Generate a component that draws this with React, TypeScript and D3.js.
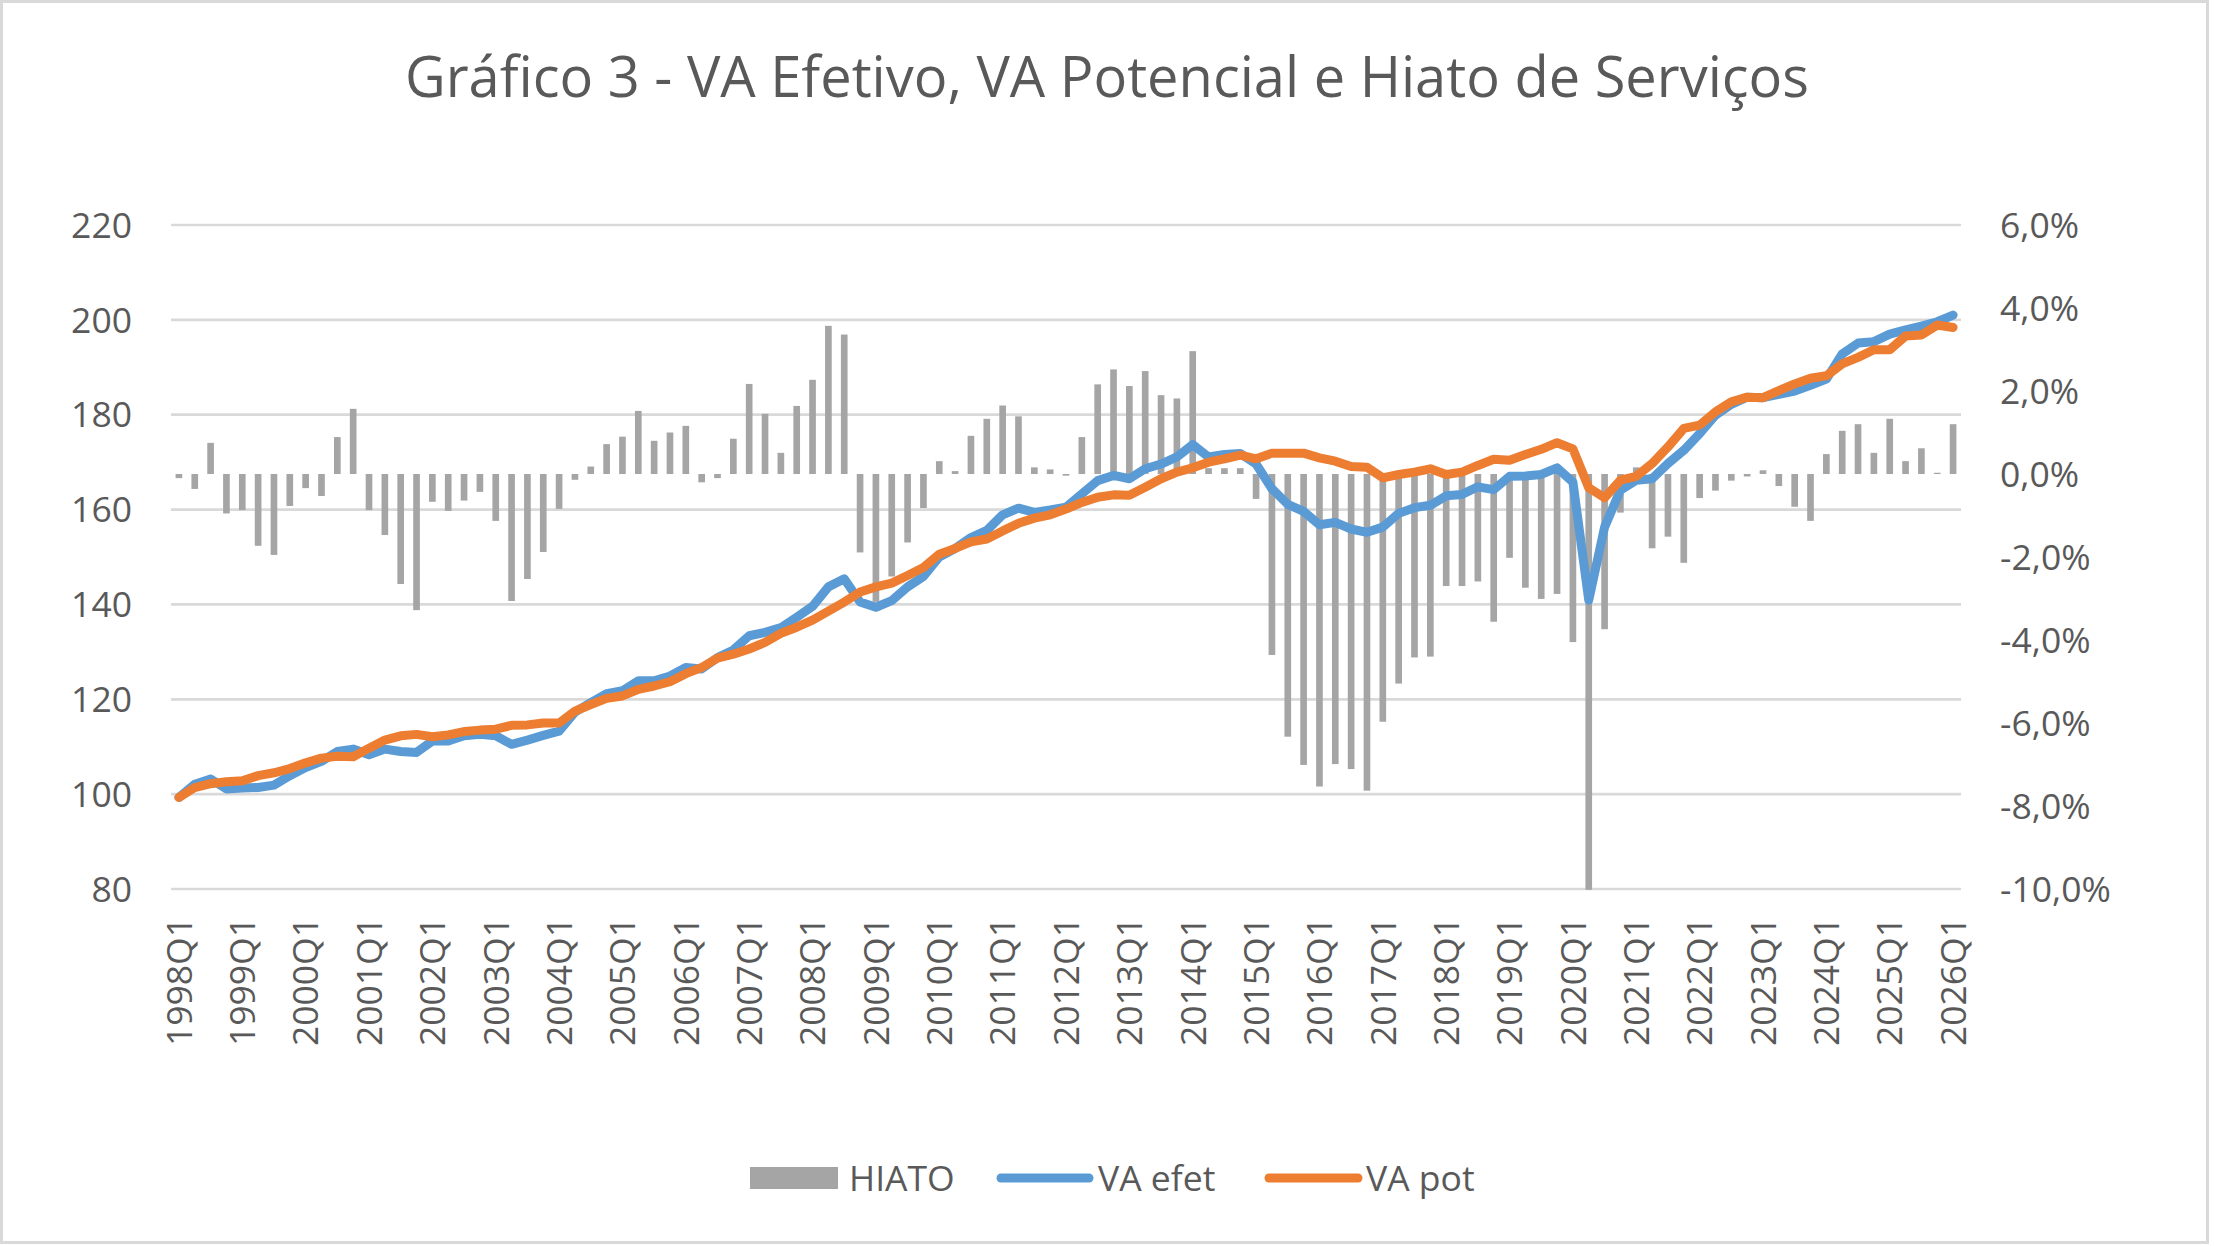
import * as d3 from "d3";

// Quarterly categories 1998Q1 .. 2026Q1
const quarters: string[] = [];
for (let y = 1998; y <= 2026; y++) {
  for (let q = 1; q <= 4; q++) {
    if (y === 2026 && q > 1) break;
    quarters.push(`${y}Q${q}`);
  }
}

// HIATO, in %
const hiato = [
  -0.10, -0.36, 0.75, -0.95,
  -0.87, -1.73, -1.95, -0.77,
  -0.34, -0.53, 0.89, 1.57,
  -0.87, -1.47, -2.65, -3.28,
  -0.67, -0.89, -0.64, -0.43,
  -1.13, -3.06, -2.53, -1.88,
  -0.84, -0.14, 0.18, 0.72,
  0.90, 1.52, 0.80, 1.00,
  1.16, -0.20, -0.10, 0.85,
  2.17, 1.45, 0.51, 1.64,
  2.27, 3.57, 3.36, -1.89,
  -3.08, -2.47, -1.65, -0.82,
  0.31, 0.07, 0.92, 1.33,
  1.65, 1.39, 0.16, 0.11,
  -0.04, 0.89, 2.16, 2.52,
  2.12, 2.48, 1.90, 1.82,
  2.96, 0.14, 0.14, 0.14,
  -0.60, -4.36, -6.33, -7.01,
  -7.53, -6.99, -7.11, -7.63,
  -5.97, -5.05, -4.42, -4.40,
  -2.70, -2.70, -2.59, -3.56,
  -2.02, -2.74, -3.01, -2.89,
  -4.05, -10.02, -3.74, -0.93,
  0.16, -1.79, -1.51, -2.14,
  -0.58, -0.40, -0.16, -0.06,
  0.09, -0.29, -0.79, -1.13,
  0.48, 1.04, 1.20, 0.51,
  1.33, 0.31, 0.62, 0.03,
  1.20,
];

const vaEfet = [
  99.3, 102.1, 103.2, 101.1,
  101.3, 101.4, 101.9, 103.9,
  105.6, 106.9, 109.0, 109.5,
  108.3, 109.5, 109.0, 108.8,
  111.2, 111.2, 112.3, 112.6,
  112.3, 110.5, 111.4, 112.4,
  113.3, 117.3, 119.3, 121.2,
  121.8, 123.9, 123.9, 124.9,
  126.7, 126.4, 128.8, 130.4,
  133.4, 134.1, 135.1, 137.3,
  139.6, 143.7, 145.4, 140.5,
  139.4, 140.8, 143.7, 145.9,
  150.0, 151.8, 154.1, 155.6,
  158.9, 160.3, 159.4, 159.9,
  160.5, 163.3, 166.1, 167.2,
  166.5, 168.6, 169.6, 171.1,
  173.7, 171.1, 171.6, 171.8,
  169.6, 164.4, 161.1, 159.6,
  156.8, 157.3, 155.9, 155.2,
  156.3, 159.2, 160.4, 160.9,
  162.9, 163.2, 164.8, 164.2,
  167.0, 167.1, 167.4, 168.8,
  165.8, 140.9, 156.3, 164.1,
  166.2, 166.5, 169.7, 172.5,
  176.0, 179.9, 182.2, 183.7,
  183.6, 184.3, 185.0, 186.2,
  187.5, 192.8, 195.1, 195.4,
  197.0, 197.9, 198.7, 199.6,
  201.0,
];

const vaPot = [
  99.3, 101.4, 102.2, 102.6,
  102.8, 103.9, 104.5, 105.4,
  106.6, 107.6, 108.0, 107.9,
  109.7, 111.4, 112.3, 112.6,
  112.1, 112.5, 113.2, 113.5,
  113.7, 114.5, 114.6, 115.0,
  115.0, 117.5, 118.9, 120.2,
  120.7, 122.1, 122.8, 123.7,
  125.4, 126.7, 128.7, 129.5,
  130.6, 132.0, 133.9, 135.2,
  136.7, 138.6, 140.5, 142.6,
  143.7, 144.5, 146.1, 147.8,
  150.6, 151.8, 153.2, 153.8,
  155.5, 157.1, 158.2, 158.9,
  160.1, 161.5, 162.6, 163.1,
  163.0, 164.7, 166.5, 167.9,
  168.8, 170.0, 170.7, 171.5,
  170.7, 171.9, 171.9, 171.9,
  170.9, 170.2, 169.1, 168.9,
  166.7, 167.4, 167.9, 168.6,
  167.4, 167.9, 169.3, 170.6,
  170.4, 171.6, 172.7, 174.1,
  172.8, 164.6, 162.5, 166.2,
  167.0, 169.7, 173.2, 177.1,
  177.8, 180.6, 182.7, 183.7,
  183.6, 185.1, 186.5, 187.7,
  188.2, 190.7, 192.1, 193.7,
  193.7, 196.6, 196.8, 198.9,
  198.4,
];

const leftTicks = [80, 100, 120, 140, 160, 180, 200, 220];
const rightTicks = [-10, -8, -6, -4, -2, 0, 2, 4, 6];

const title = "Gráfico 3 - VA Efetivo, VA Potencial e Hiato de Serviços";

export default function App() {
  const width = 2214;
  const height = 1246;
  const marginLeft = 171;
  const marginRight = 253;
  const marginTop = 225;
  const marginBottom = 357;
  const font = "'Open Sans', sans-serif";
  const textColor = "#595959";

  const x = d3.scaleBand()
    .domain(quarters)
    .range([marginLeft, width - marginRight])
    .paddingInner(0.58)
    .paddingOuter(0.29);
  const cx = (q: string) => (x(q) as number) + x.bandwidth() / 2;

  const yL = d3.scaleLinear().domain([80, 220]).range([height - marginBottom, marginTop]);
  const yR = d3.scaleLinear().domain([-10, 6]).range([height - marginBottom, marginTop]);

  const line = d3.line<number>()
    .x((_, i) => cx(quarters[i]))
    .y(d => yL(d));

  // excel style: 6,0%  -10,0%
  const fmtPct = (v: number) => v.toFixed(1).replace(".", ",") + "%";

  return (
    <svg width={width} height={height} style={{ position: "absolute", left: 0, top: 0 }}>
      <rect x={1.5} y={1.5} width={2206} height={1241} fill="#fff" stroke="#d9d9d9" strokeWidth={3} />

      <text x={width / 2} y={97} textAnchor="middle" fontFamily={font} fontSize={56} fill={textColor}>
        {title}
      </text>

      {/* gridlines */}
      <g stroke="#d9d9d9" strokeWidth={2.7}>
        {leftTicks.map(t => (
          <line key={t} x1={marginLeft} x2={width - marginRight} y1={yL(t)} y2={yL(t)} />
        ))}
      </g>

      {/* HIATO bars */}
      <g fill="#a5a5a5">
        {quarters.map((q, i) => {
          const v = hiato[i];
          return (
            <rect key={q} x={x(q)} width={x.bandwidth()}
              y={yR(Math.max(0, v))} height={Math.abs(yR(v) - yR(0))} />
          );
        })}
      </g>

      <path d={line(vaEfet) ?? ""} fill="none" stroke="#5b9bd5" strokeWidth={9}
        strokeLinejoin="round" strokeLinecap="round" />
      <path d={line(vaPot) ?? ""} fill="none" stroke="#ed7d31" strokeWidth={9}
        strokeLinejoin="round" strokeLinecap="round" />

      {/* left axis */}
      <g fontFamily={font} fontSize={35.5} fill={textColor} textAnchor="end">
        {leftTicks.map(t => (
          <text key={t} x={132} y={yL(t)} dy="0.36em">{t}</text>
        ))}
      </g>

      {/* right axis */}
      <g fontFamily={font} fontSize={35.5} fill={textColor} textAnchor="start">
        {rightTicks.map(t => (
          <text key={t} x={2000} y={yR(t)} dy="0.36em">{fmtPct(t)}</text>
        ))}
      </g>

      {/* x axis labels */}
      <g fontFamily={font} fontSize={35.5} fill={textColor} textAnchor="end">
        {quarters.filter(q => q.endsWith("Q1")).map(q => (
          <text key={q} transform={`translate(${cx(q)},917) rotate(-90)`} dy="0.36em">{q}</text>
        ))}
      </g>

      {/* legend */}
      <g fontFamily={font} fontSize={35.5} fill={textColor}>
        <rect x={750} y={1167} width={88} height={22} fill="#a5a5a5" />
        <text x={849} y={1178} dy="0.36em">HIATO</text>
        <line x1={1001} x2={1089} y1={1178} y2={1178} stroke="#5b9bd5" strokeWidth={9} strokeLinecap="round" />
        <text x={1098} y={1178} dy="0.36em">VA efet</text>
        <line x1={1269} x2={1358} y1={1178} y2={1178} stroke="#ed7d31" strokeWidth={9} strokeLinecap="round" />
        <text x={1366} y={1178} dy="0.36em">VA pot</text>
      </g>
    </svg>
  );
}
